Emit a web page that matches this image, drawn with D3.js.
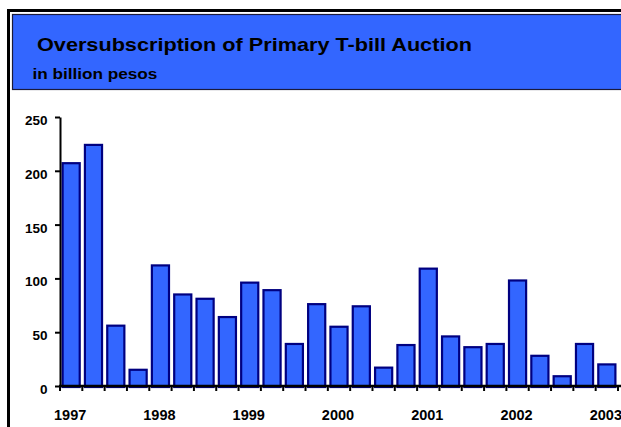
<!DOCTYPE html>
<html><head><meta charset="utf-8">
<script src="https://cdn.jsdelivr.net/npm/d3@7"></script>
<style>html,body{margin:0;padding:0;background:#fff;overflow:hidden}svg{display:block}</style>
</head><body>
<svg id="c" width="621" height="427"></svg>
<script>
const title = "Oversubscription of Primary T-bill Auction";
const subtitle = "in billion pesos";
const quarters = ["1997Q1","1997Q2","1997Q3","1997Q4","1998Q1","1998Q2","1998Q3","1998Q4","1999Q1","1999Q2","1999Q3","1999Q4","2000Q1","2000Q2","2000Q3","2000Q4","2001Q1","2001Q2","2001Q3","2001Q4","2002Q1","2002Q2","2002Q3","2002Q4","2003Q1"];
const values = [208,225,57,16,113,86,82,65,97,90,40,77,56,75,18,39,110,47,37,40,99,29,10,40,21];
const yTicks = [0,50,100,150,200,250];
const yearLabels = ["1997","1998","1999","2000","2001","2002","2003"];

const svg = d3.select("#c");
const font = "'Liberation Sans', Arial, Helvetica, sans-serif";

// outer frame
svg.append("rect").attr("x",8.5).attr("y",10.5).attr("width",700).attr("height",500)
  .attr("fill","none").attr("stroke","#000").attr("stroke-width",3);
// header
svg.append("rect").attr("x",12.5).attr("y",14.5).attr("width",700).attr("height",75)
  .attr("fill","#3366FF").attr("stroke","#1a1a3a").attr("stroke-width",1.2);

function fitText(str, x0, y0, size, targetW){
  const t = svg.append("text").attr("font-family",font).attr("font-weight","bold")
    .attr("font-size",size).attr("fill","#000").attr("x",0).attr("y",0).text(str);
  const w = t.node().getComputedTextLength();
  const sx = w > 0 ? targetW / w : 1;
  t.attr("transform",`translate(${x0},${y0}) scale(${sx},1)`);
  return t;
}
fitText(title, 37, 51, 17.5, 435);
fitText(subtitle, 32.5, 78.5, 15, 125);

const x = d3.scaleBand().domain(quarters).range([60,618]).padding(0);
const y = d3.scaleLinear().domain([0,250]).range([386,117]);
const bw = x.bandwidth();

svg.append("g").selectAll("rect.bar").data(values).join("rect").attr("class","bar")
  .attr("x",(d,i)=>x(quarters[i])+2.6)
  .attr("y",d=>y(d)+1)
  .attr("width",bw-5.2)
  .attr("height",d=>y(0)-y(d))
  .attr("fill","#3366FF").attr("stroke","#000080").attr("stroke-width",2.2);

// y axis
const yAxis = d3.axisLeft(y).tickValues(yTicks).tickSize(5).tickPadding(8).tickSizeOuter(0);
const ya = svg.append("g").attr("transform","translate(60,0)").call(yAxis);
ya.select(".domain").attr("stroke","#000").attr("stroke-width",2);
ya.selectAll(".tick line").attr("stroke","#000").attr("stroke-width",2);
ya.selectAll(".tick text").attr("font-family",font).attr("font-weight","bold").attr("font-size",13.5)
  .attr("dy","0.55em").attr("x",-12.5).attr("fill","#000");

// x axis: ticks at band boundaries
const boundaries = quarters.map(q=>x(q)).concat([x(quarters[quarters.length-1])+bw]);
svg.append("line").attr("x1",59).attr("x2",621).attr("y1",386).attr("y2",386).attr("stroke","#000").attr("stroke-width",2.5);
svg.selectAll("line.xt").data(boundaries).join("line").attr("class","xt")
  .attr("x1",d=>d).attr("x2",d=>d).attr("y1",386).attr("y2",391).attr("stroke","#000").attr("stroke-width",2);
// year labels under first quarter of each year
svg.selectAll("text.yr").data(yearLabels).join("text").attr("class","yr")
  .attr("x",d=>x(d+"Q1")+bw/2 - 1).attr("y",419.5).attr("text-anchor","middle")
  .attr("font-family",font).attr("font-weight","bold").attr("font-size",14.5).attr("fill","#000").text(d=>d);
</script>
</body></html>
